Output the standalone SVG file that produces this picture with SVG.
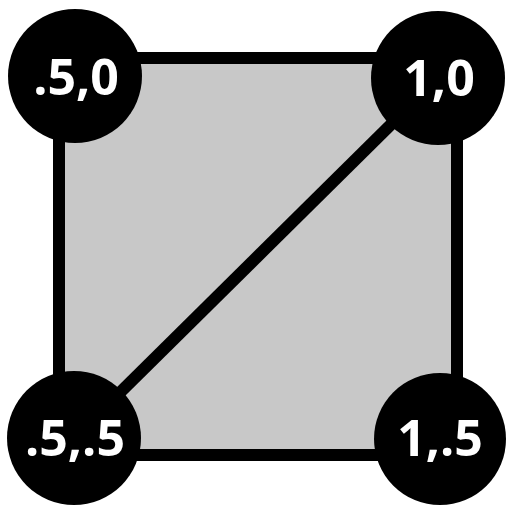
<svg xmlns="http://www.w3.org/2000/svg" width="512" height="512" viewBox="0 0 512 512">
<style>
.n{fill:#000}
.t{fill:#fff;font-family:"Open Sans","DejaVu Sans",sans-serif;font-weight:bold;font-size:50px;text-anchor:middle}
</style>
<rect x="0" y="0" width="512" height="512" fill="#fff"/>
<g id="square"><rect x="59" y="58" width="398" height="397" fill="#c8c8c8" stroke="#000" stroke-width="12"/></g>
<g id="connectors"><line x1="74" y1="438" x2="438" y2="78" stroke="#000" stroke-width="12"/></g>
<g id="n1"><circle class="n" cx="75" cy="76" r="67"/><text class="t" x="76" y="95">.5,0</text></g>
<g id="n2"><circle class="n" cx="438" cy="78" r="67"/><text class="t" x="439" y="96">1,0</text></g>
<g id="n3"><circle class="n" cx="74" cy="438" r="67"/><text class="t" x="75" y="456">.5,.5</text></g>
<g id="n4"><circle class="n" cx="440" cy="439" r="66"/><text class="t" x="440" y="456">1,.5</text></g>
</svg>
